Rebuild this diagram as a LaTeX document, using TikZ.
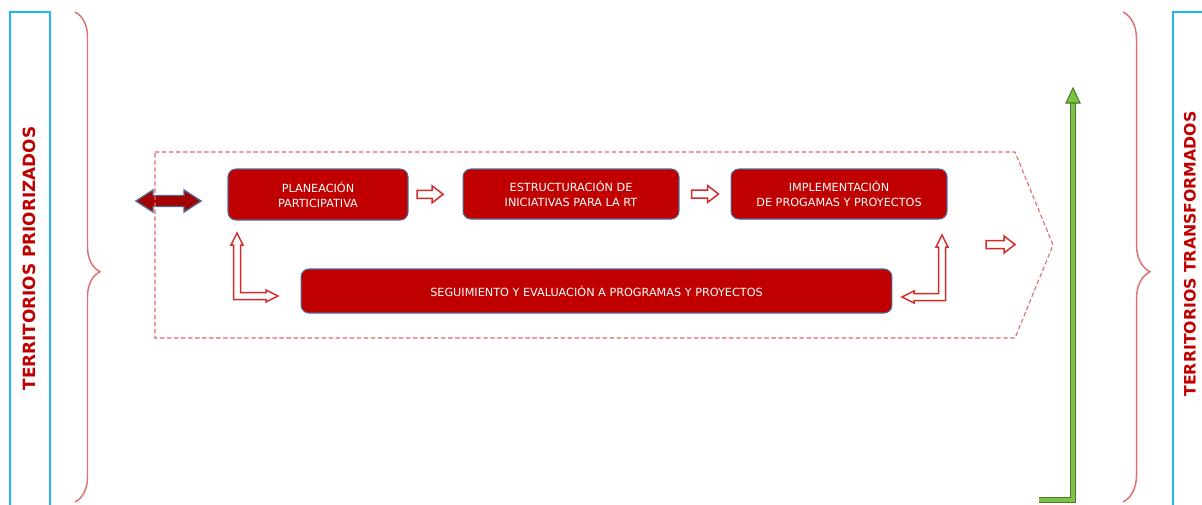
\documentclass[tikz,border=0pt]{standalone}
\usepackage{fontspec}
\setmainfont{DejaVu Sans}
\usetikzlibrary{arrows.meta,calc,decorations.pathreplacing}
\definecolor{boxred}{HTML}{C00000}
\definecolor{boxline}{HTML}{4F6A8F}
\definecolor{dashred}{HTML}{E06666}
\definecolor{bracered}{HTML}{DE7272}
\definecolor{skyline}{HTML}{22B5F0}
\definecolor{hollowred}{HTML}{D42A2A}
\definecolor{greendark}{HTML}{4A7A2C}
\definecolor{greenlight}{HTML}{7DC243}
\tikzset{
  stage/.style={draw=boxline, line width=0.6pt, fill=boxred, rounded corners=4.5pt,
    text=white, align=center, inner sep=0pt, font=\fontsize{6.4}{8.6}\selectfont},
  hollow/.style={draw=hollowred, line width=0.85pt, fill=white, line join=miter},
  sidelabel/.style={rotate=90, text=boxred, font=\bfseries\fontsize{#1}{10}\selectfont},
  curly/.style={draw=bracered, line width=0.85pt, decorate,
    decoration={brace, amplitude=#1, aspect=0.53}},
  pics/harrow/.style={code={
    \draw[hollow] ({-#1/2},-4) -- ({#1/2-11},-4) -- ({#1/2-11},-8.5) -- ({#1/2},0)
      -- ({#1/2-11},8.5) -- ({#1/2-11},4) -- ({-#1/2},4) -- cycle;}}
}

\begin{document}
\begin{tikzpicture}[x=0.02cm, y=-0.02cm]
  \useasboundingbox (0,0) rectangle (1202,504);
  \draw[skyline, line width=0.9pt] (10,12) rectangle (50,520);
  \draw[skyline, line width=0.9pt] (1173,12) rectangle (1220,520);
  \node[sidelabel=9.6] (prior) at (29.5,258.5) {TERRITORIOS PRIORIZADOS};
  \node[sidelabel=8.95] (transf) at (1190,254) {TERRITORIOS TRANSFORMADOS};
  \draw[curly=0.5cm] (75,12) -- (75,502);
  \draw[curly=0.54cm] (1123,12) -- (1123,502);

  \filldraw[fill=boxred!85!black, draw=boxline, line width=0.8pt]
    (136,201) -- (153,190) -- (153,195.5) -- (184,195.5) -- (184,190) -- (201,201)
    -- (184,212) -- (184,206.5) -- (153,206.5) -- (153,212) -- cycle;
  \draw[dashred, line width=0.6pt, dash pattern=on 2.5pt off 1.5pt]
    (155,152) -- (1015,152) -- (1053,245) -- (1015,338) -- (155,338) -- cycle;

  \node[stage, minimum width=3.6cm, minimum height=1.02cm] (plan) at (318,194.5)
    {PLANEACIÓN\\PARTICIPATIVA};
  \node[stage, minimum width=4.32cm, minimum height=1cm] (estr) at (571,194)
    {ESTRUCTURACIÓN DE\\INICIATIVAS PARA LA RT};
  \node[stage, minimum width=4.32cm, minimum height=1cm] (impl) at (839,194)
    {IMPLEMENTACIÓN\\DE PROGAMAS Y PROYECTOS};
  \node[stage, minimum width=11.82cm, minimum height=0.88cm] (segu) at (596.5,291)
    {SEGUIMIENTO Y EVALUACIÓN A PROGRAMAS Y PROYECTOS};

  \pic at ($(plan.east)!0.4!(estr.west)$) {harrow=26};
  \pic at ($(estr.east)!0.5!(impl.west)$) {harrow=27};
  \coordinate (exit) at (1000.5,244.5);
  \pic at (exit) {harrow=29};

  \draw[hollow] (237,233) -- (243,245) -- (240.5,245) -- (240.5,292.5) -- (266,292.5)
    -- (266,290) -- (278,296) -- (266,302) -- (266,299.5) -- (233.5,299.5)
    -- (233.5,245) -- (231,245) -- cycle;
  \draw[hollow] (942,235) -- (948,247) -- (945.5,247) -- (945.5,300.5) -- (914,300.5)
    -- (914,303) -- (902,297) -- (914,291) -- (914,293.5) -- (938.5,293.5)
    -- (938.5,247) -- (936,247) -- cycle;

  \coordinate (gfoot) at (1039,500);
  \coordinate (gtip) at (1073,88);
  \draw[greendark, line width=0.6pt, double=greenlight, double distance=2.4pt]
    (gfoot) -| ($(gtip)+(0,14)$);
  \filldraw[fill=greenlight, draw=greendark, line width=0.6pt]
    (gtip) -- ++(7,15) -- ++(-14,0) -- cycle;
\end{tikzpicture}
\end{document}
